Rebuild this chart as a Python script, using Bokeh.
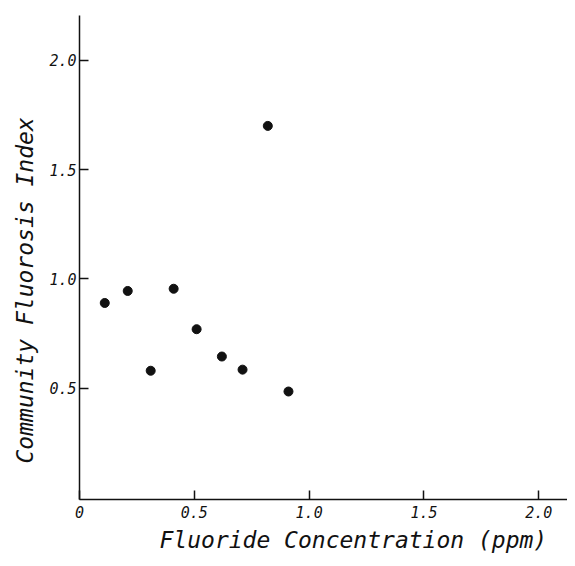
from bokeh.plotting import figure
from bokeh.models import FixedTicker, Title, ColumnDataSource
from bokeh.embed import file_html
from bokeh.resources import INLINE

# Data
fluoride_ppm = [0.11, 0.21, 0.31, 0.41, 0.51, 0.62, 0.71, 0.82, 0.91]
fluorosis_index = [0.89, 0.945, 0.58, 0.955, 0.77, 0.645, 0.585, 1.70, 0.485]

x_ticks = [0, 0.5, 1.0, 1.5, 2.0]
x_tick_labels = ["0", "0.5", "1.0", "1.5", "2.0"]
y_ticks = [0.5, 1.0, 1.5, 2.0]
y_tick_labels = ["0.5", "1.0", "1.5", "2.0"]

x_title = "Fluoride Concentration (ppm)"
y_title = "Community Fluorosis Index"

FONT = "DejaVu Sans Mono"
INK = "#111111"

p = figure(width=567, height=558, output_backend="svg", toolbar_location=None,
           x_range=(0.0, 2.125), y_range=(-0.009, 2.205),
           min_border_left=79, min_border_right=0, min_border_top=15,
           min_border_bottom=59)
p.outline_line_color = None
p.grid.visible = False
p.background_fill_color = "white"
p.border_fill_color = "white"

src = ColumnDataSource(dict(x=fluoride_ppm, y=fluorosis_index))
p.scatter("x", "y", source=src, size=9, color=INK, marker="circle")

for ax, ticks, labels in ((p.xaxis[0], x_ticks, x_tick_labels),
                          (p.yaxis[0], y_ticks, y_tick_labels)):
    ax.ticker = FixedTicker(ticks=ticks)
    ax.major_label_overrides = {t: l for t, l in zip(ticks, labels)}
    ax.minor_tick_line_color = None
    ax.major_tick_in = 9
    ax.major_tick_out = 0
    ax.axis_line_color = INK
    ax.axis_line_width = 1.5
    ax.major_tick_line_color = INK
    ax.major_tick_line_width = 1.5
    ax.major_label_text_font = FONT
    ax.major_label_text_font_style = "italic"
    ax.major_label_text_font_size = "15px"
    ax.major_label_text_color = INK

p.xaxis.major_label_standoff = 6
p.yaxis.major_label_standoff = 3

# Axis titles
p.add_layout(Title(text=x_title, align="left", offset=80, standoff=9,
                   text_font=FONT, text_font_style="italic",
                   text_font_size="23px", text_color=INK), "below")
p.add_layout(Title(text=y_title, align="left", offset=36, standoff=17,
                   text_font=FONT, text_font_style="italic",
                   text_font_size="23px", text_color=INK), "left")

open("out.html", "w").write(file_html(p, INLINE))
